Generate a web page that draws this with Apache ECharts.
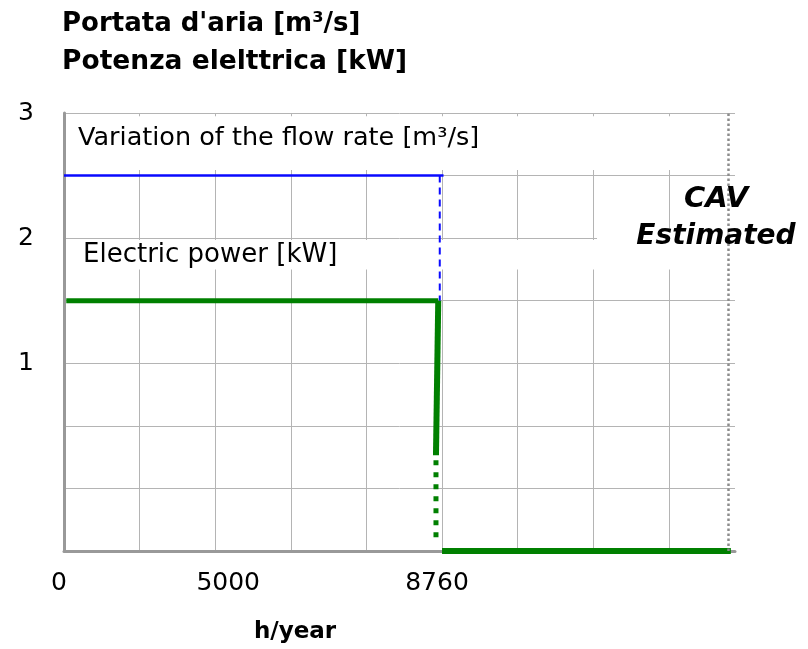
<!DOCTYPE html>
<html>
<head>
<meta charset="utf-8">
<script src="https://cdn.jsdelivr.net/npm/echarts@6/dist/echarts.min.js"></script>
<style>
  html, body { margin: 0; padding: 0; background: #fff; }
  #main { width: 808px; height: 649px; }
</style>
</head>
<body>
<div id="main"></div>
<script>
// schematic chart: x in grid columns, y in grid rows (not to scale)
var xTickPos = [0, 2, 5];
var xTickText = ['0', '5000', '8760'];
var yTickPos = [3, 5, 7];
var yTickText = ['1', '2', '3'];

var flowOn = [[0, 6], [5.02, 6]];
var flowDrop = [[4.97, 6], [4.97, 4]];
var powerOn = [[0.03, 4], [4.95, 4]];
var powerDrop = [[4.95, 4], [4.92, 1.53]];
var powerDropDotted = [[4.92, 1.45], [4.92, 0.2]];
var powerOff = [[5.0, 0], [8.82, 0]];
var cavLine = 8.78;

var FONT = 'DejaVu Sans';
var GREEN = '#008000';
var BLUE = '#0a0aff';

var myChart = echarts.init(document.getElementById('main'));

function seg(data, color, width, type) {
    return {
        type: 'line',
        data: data,
        symbol: 'none',
        silent: true,
        animation: false,
        lineStyle: { color: color, width: width, type: type || 'solid', cap: 'butt' },
        z: 2
    };
}

function txt(x, y, text, size, weight, style, align) {
    return {
        type: 'text',
        x: x,
        y: y,
        z: 10,
        silent: true,
        style: {
            text: text,
            fill: '#000',
            fontFamily: FONT,
            fontSize: size,
            fontWeight: weight || 'normal',
            fontStyle: style || 'normal',
            align: align || 'left',
            verticalAlign: 'middle'
        }
    };
}

option = {
    backgroundColor: '#fff',
    animation: false,
    grid: { left: 64, right: 73, top: 113, bottom: 98 },
    xAxis: {
        type: 'value',
        min: 0,
        max: 8.875,
        interval: 1,
        axisLine: { show: true, lineStyle: { color: '#999', width: 3 } },
        axisTick: { show: false },
        splitLine: { show: true, showMinLine: false, showMaxLine: false, lineStyle: { color: '#b4b4b4', width: 1 } },
        axisLabel: {
            margin: 20,
            color: '#000',
            fontFamily: FONT,
            fontSize: 25,
            showMaxLabel: false,
            formatter: function (v) {
                var i = xTickPos.indexOf(v);
                return i < 0 ? '' : '{t' + i + '|' + xTickText[i] + '}';
            },
            rich: {
                t0: { fontFamily: FONT, fontSize: 25, color: '#000', padding: [0, 10, 0, 0] },
                t1: { fontFamily: FONT, fontSize: 25, color: '#000', padding: [0, 0, 0, 26] },
                t2: { fontFamily: FONT, fontSize: 25, color: '#000', padding: [0, 10, 0, 0] }
            }
        }
    },
    yAxis: {
        type: 'value',
        min: 0,
        max: 7,
        interval: 1,
        axisLine: { show: true, lineStyle: { color: '#999', width: 3 } },
        axisTick: { show: false },
        splitLine: { show: true, lineStyle: { color: '#b4b4b4', width: 1 } },
        axisLabel: {
            margin: 30,
            color: '#000',
            fontFamily: FONT,
            fontSize: 25,
            formatter: function (v) {
                var i = yTickPos.indexOf(v);
                return i < 0 ? '' : yTickText[i];
            }
        }
    },
    series: [
        seg(flowOn, BLUE, 2.5),
        seg(flowDrop, BLUE, 2, [7, 5]),
        seg(powerOn, GREEN, 5),
        seg(powerDrop, GREEN, 6),
        seg(powerDropDotted, GREEN, 5, [5, 7]),
        seg(powerOff, GREEN, 6),
        {
            // white boxes behind the annotations
            type: 'line',
            data: [],
            silent: true,
            z: 3,
            markArea: {
                silent: true,
                itemStyle: { color: '#fff', opacity: 1, borderWidth: 0 },
                label: { show: false },
                data: [
                    [{ xAxis: 0.03, yAxis: 6.95 }, { xAxis: 8.875, yAxis: 6.09 }],
                    [{ xAxis: 0.03, yAxis: 4.97 }, { xAxis: 8.6, yAxis: 4.5 }],
                    [{ xAxis: 7.05, yAxis: 5.15 }, { xAxis: 8.875, yAxis: 4.97 }]
                ]
            }
        },
        {
            type: 'line',
            data: [],
            silent: true,
            z: 4,
            markLine: {
                silent: true,
                symbol: 'none',
                label: { show: false },
                lineStyle: { color: '#8c8c8c', width: 2.5, type: [2.5, 2.5] },
                data: [{ xAxis: cavLine }]
            }
        }
    ],
    graphic: [
        txt(62, 24, "Portata d'aria [m³/s]", 26, 'bold'),
        txt(62, 62, 'Potenza elelttrica [kW]', 26.5, 'bold'),
        txt(78, 138, 'Variation of the flow rate [m³/s]', 25.5),
        txt(83, 255, 'Electric power [kW]', 26),
        txt(716, 199, 'CAV', 29, 'bold', 'italic', 'center'),
        txt(716, 237, 'Estimated', 28, 'bold', 'italic', 'center'),
        txt(295, 632, 'h/year', 23, 'bold', 'normal', 'center')
    ]
};

myChart.setOption(option);
</script>
</body>
</html>
